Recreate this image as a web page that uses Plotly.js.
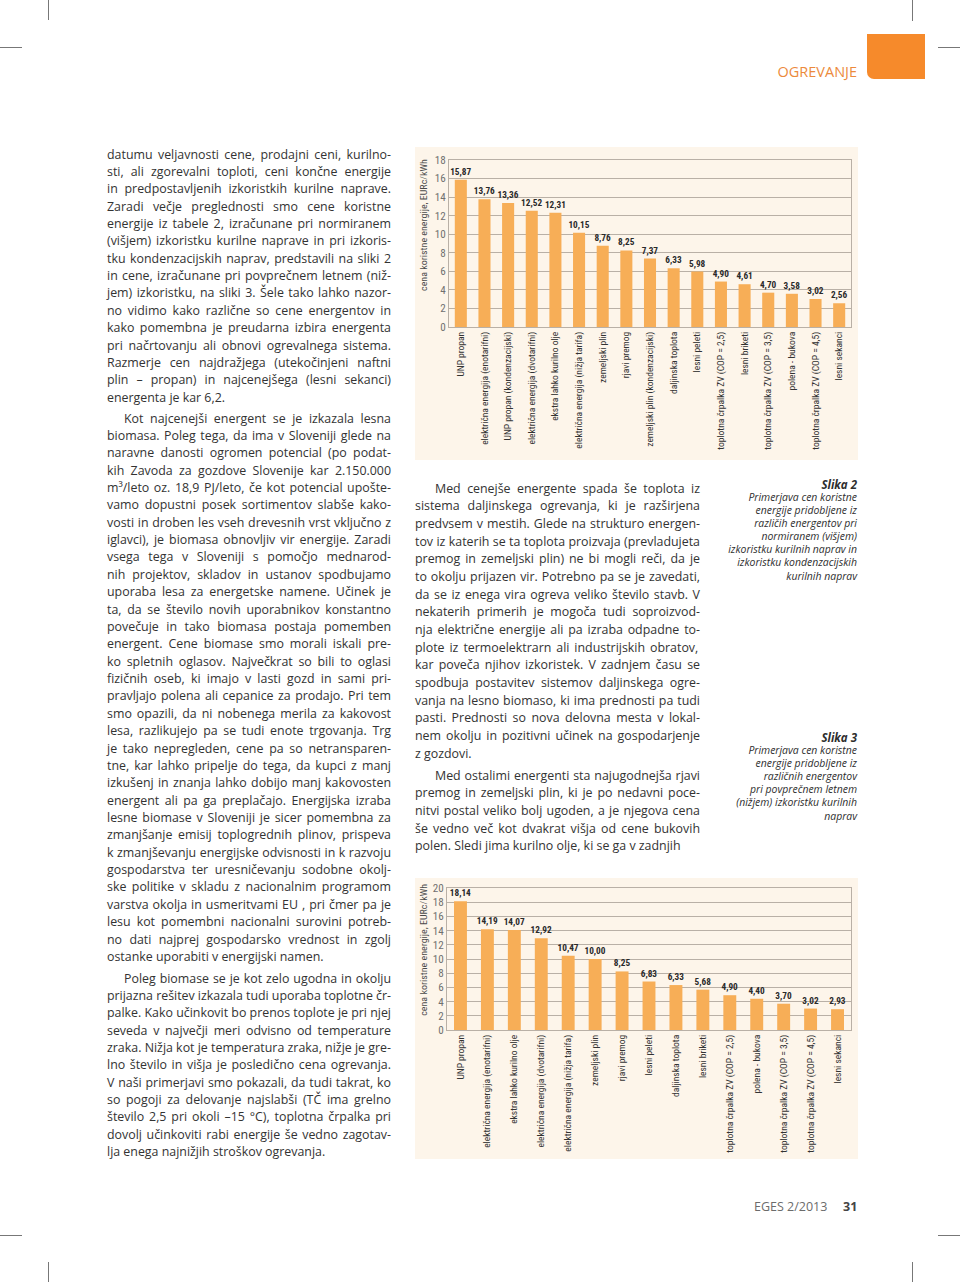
<!DOCTYPE html>
<html><head><meta charset="utf-8">
<script src="https://cdn.plot.ly/plotly-3.0.1.min.js"></script>
<style>
html,body{margin:0;padding:0;background:#fff;}
#page{position:relative;width:960px;height:1282px;overflow:hidden;background:#fff;font-family:'Open Sans',sans-serif;}
.ln{position:absolute;white-space:nowrap;font-size:12.4px;line-height:17px;color:#333;}
.cap{position:absolute;white-space:nowrap;font-style:italic;line-height:13px;color:#2e2e2e;text-align:right;right:103px;}
.mark{position:absolute;background:#777;}
.chart{position:absolute;}
</style></head>
<body><div id="page">
<div class="mark" style="left:48px;top:0;width:1px;height:20px"></div>
<div class="mark" style="left:0;top:47px;width:22px;height:1px"></div>
<div class="mark" style="left:912px;top:0;width:1px;height:21px"></div>
<div class="mark" style="left:938px;top:47px;width:22px;height:1px"></div>
<div class="mark" style="left:48px;top:1262px;width:1px;height:20px"></div>
<div class="mark" style="left:0;top:1235px;width:22px;height:1px"></div>
<div class="mark" style="left:912px;top:1262px;width:1px;height:20px"></div>
<div class="mark" style="left:938px;top:1235px;width:22px;height:1px"></div>
<div style="position:absolute;left:867px;top:34px;width:58px;height:45px;background:#f68a2b;border-bottom-left-radius:7px"></div>
<div id="ogr" style="position:absolute;right:103px;top:63px;font-size:14.5px;line-height:18px;color:#ec8a3c;white-space:nowrap">OGREVANJE</div>
<div style="position:absolute;left:754px;top:1198px;font-size:12.5px;line-height:17px;color:#6b6b6b;white-space:nowrap">EGES 2/2013</div>
<div style="position:absolute;left:843px;top:1198px;font-size:12.5px;line-height:17px;color:#444;font-weight:700;white-space:nowrap">31</div>
<div id="chartTop" class="chart" style="left:415px;top:147px;width:443px;height:313px"></div>
<div id="chartBottom" class="chart" style="left:415px;top:878px;width:443px;height:281px"></div>
</div>
<script>
// ---------------- DATA ----------------
const topCategories = ["UNP propan","električna energija (enotarifni)","UNP propan (kondenzacijski)","električna energija (dvotarifni)","ekstra lahko kurilno olje","električna energija (nižja tarifa)","zemeljski plin","rjavi premog","zemeljski plin (kondenzacijski)","daljinska toplota","lesni peleti","toplotna črpalka ZV (COP = 2,5)","lesni briketi","toplotna črpalka ZV (COP = 3,5)","polena - bukova","toplotna črpalka ZV (COP = 4,5)","lesni sekanci"];
const topValues = [15.87,13.76,13.36,12.52,12.31,10.15,8.76,8.25,7.37,6.33,5.98,4.90,4.61,3.70,3.58,3.02,2.56];
const topLabels = ["15,87","13,76","13,36","12,52","12,31","10,15","8,76","8,25","7,37","6,33","5,98","4,90","4,61","4,70","3,58","3,02","2,56"];

const bottomCategories = ["UNP propan","električna energija (enotarifni)","ekstra lahko kurilno olje","električna energija (dvotarifni)","električna energija (nižja tarifa)","zemeljski plin","rjavi premog","lesni peleti","daljinska toplota","lesni briketi","toplotna črpalka ZV (COP = 2,5)","polena - bukova","toplotna črpalka ZV (COP = 3,5)","toplotna črpalka ZV (COP = 4,5)","lesni sekanci"];
const bottomValues = [18.14,14.19,14.07,12.92,10.47,10.00,8.25,6.83,6.33,5.68,4.90,4.40,3.70,3.02,2.93];
const bottomLabels = ["18,14","14,19","14,07","12,92","10,47","10,00","8,25","6,83","6,33","5,68","4,90","4,40","3,70","3,02","2,93"];

const yTitle = "cena koristne energije, EURc/kWh";

const leftParas = [
["datumu veljavnosti cene, prodajni ceni, kurilno-",
"sti, ali zgorevalni toploti, ceni končne energije",
"in predpostavljenih izkoristkih kurilne naprave.",
"Zaradi večje preglednosti smo cene koristne",
"energije iz tabele 2, izračunane pri normiranem",
"(višjem) izkoristku kurilne naprave in pri izkoris-",
"tku kondenzacijskih naprav, predstavili na sliki 2",
"in cene, izračunane pri povprečnem letnem (niž-",
"jem) izkoristku, na sliki 3. Šele tako lahko nazor-",
"no vidimo kako različne so cene energentov in",
"kako pomembna je preudarna izbira energenta",
"pri načrtovanju ali obnovi ogrevalnega sistema.",
"Razmerje cen najdražjega (utekočinjeni naftni",
"plin – propan) in najcenejšega (lesni sekanci)",
"energenta je kar 6,2."],
["Kot najcenejši energent se je izkazala lesna",
"biomasa. Poleg tega, da ima v Sloveniji glede na",
"naravne danosti ogromen potencial (po podat-",
"kih Zavoda za gozdove Slovenije kar 2.150.000",
"m³/leto oz. 18,9 PJ/leto, če kot potencial upošte-",
"vamo dopustni posek sortimentov slabše kako-",
"vosti in droben les vseh drevesnih vrst vključno z",
"iglavci), je biomasa obnovljiv vir energije. Zaradi",
"vsega tega v Sloveniji s pomočjo mednarod-",
"nih projektov, skladov in ustanov spodbujamo",
"uporaba lesa za energetske namene. Učinek je",
"ta, da se število novih uporabnikov konstantno",
"povečuje in tako biomasa postaja pomemben",
"energent. Cene biomase smo morali iskali pre-",
"ko spletnih oglasov. Največkrat so bili to oglasi",
"fizičnih oseb, ki imajo v lasti gozd in sami pri-",
"pravljajo polena ali cepanice za prodajo. Pri tem",
"smo opazili, da ni nobenega merila za kakovost",
"lesa, razlikujejo pa se tudi enote trgovanja. Trg",
"je tako nepregleden, cene pa so netransparen-",
"tne, kar lahko pripelje do tega, da kupci z manj",
"izkušenj in znanja lahko dobijo manj kakovosten",
"energent ali pa ga preplačajo. Energijska izraba",
"lesne biomase v Sloveniji je sicer pomembna za",
"zmanjšanje emisij toplogrednih plinov, prispeva",
"k zmanjševanju energijske odvisnosti in k razvoju",
"gospodarstva ter uresničevanju sodobne okolj-",
"ske politike v skladu z nacionalnim programom",
"varstva okolja in usmeritvami EU , pri čmer pa je",
"lesu kot pomembni nacionalni surovini potreb-",
"no dati najprej gospodarsko vrednost in zgolj",
"ostanke uporabiti v energijski namen."],
["Poleg biomase se je kot zelo ugodna in okolju",
"prijazna rešitev izkazala tudi uporaba toplotne čr-",
"palke. Kako učinkovit bo prenos toplote je pri njej",
"seveda v največji meri odvisno od temperature",
"zraka. Nižja kot je temperatura zraka, nižje je gre-",
"lno število in višja je posledično cena ogrevanja.",
"V naši primerjavi smo pokazali, da tudi takrat, ko",
"so pogoji za delovanje najslabši (TČ ima grelno",
"število 2,5 pri okoli –15 °C), toplotna črpalka pri",
"dovolj učinkoviti rabi energije še vedno zagotav-",
"lja enega najnižjih stroškov ogrevanja."]
];

const midParas = [
["Med cenejše energente spada še toplota iz",
"sistema daljinskega ogrevanja, ki je razširjena",
"predvsem v mestih. Glede na strukturo energen-",
"tov iz katerih se ta toplota proizvaja (prevladujeta",
"premog in zemeljski plin) ne bi mogli reči, da je",
"to okolju prijazen vir. Potrebno pa se je zavedati,",
"da se iz enega vira ogreva veliko število stavb. V",
"nekaterih primerih je mogoča tudi soproizvod-",
"nja električne energije ali pa izraba odpadne to-",
"plote iz  termoelektrarn ali industrijskih obratov,",
"kar poveča njihov izkoristek. V zadnjem času se",
"spodbuja postavitev sistemov daljinskega ogre-",
"vanja na lesno biomaso, ki ima prednosti pa tudi",
"pasti. Prednosti so nova delovna mesta v lokal-",
"nem okolju in pozitivni učinek na gospodarjenje",
"z gozdovi."],
["Med ostalimi energenti sta najugodnejša rjavi",
"premog in zemeljski plin, ki je po nedavni poce-",
"nitvi postal veliko bolj ugoden, a je njegova cena",
"še vedno več kot dvakrat višja od cene bukovih",
"polen. Sledi jima kurilno olje, ki se ga v zadnjih"]
];

const caption2 = ["Slika 2","Primerjava cen koristne","energije pridobljene iz","različih energentov pri","normiranem (višjem)","izkoristku kurilnih naprav in","izkoristku kondenzacijskih","kurilnih naprav"];
const caption3 = ["Slika 3","Primerjava cen koristne","energije pridobljene iz","različnih energentov","pri povprečnem letnem","(nižjem) izkoristku kurilnih","naprav"];

// ---------------- HELPERS ----------------
const page = document.getElementById('page');
const cctx = document.createElement('canvas').getContext('2d');
function fontAvailable(name){
  const s='mmmmmmmmmmlliWWabc123,.()';
  for (const base of ['monospace','serif']) {
    cctx.font='32px '+base; const a=cctx.measureText(s).width;
    cctx.font='32px "'+name+'", '+base; const b=cctx.measureText(s).width;
    if (Math.abs(a-b)>0.01) return true;
  }
  return false;
}
function textW(str,size,family,weight,style){
  cctx.font=(style||'normal')+' '+(weight||400)+' '+size+'px "'+family+'", sans-serif';
  return cctx.measureText(str).width;
}

function placeLine(text, x, top, width, justify){
  const d=document.createElement('div');
  d.className='ln';
  d.style.left=x+'px'; d.style.top=top+'px';
  d.textContent=text;
  page.appendChild(d);
  const w=d.getBoundingClientRect().width;
  const nsp=(text.match(/ /g)||[]).length;
  if (w>width){
    d.style.letterSpacing=((width-w)/text.length)+'px';
  } else if (justify){
    if (nsp>0) d.style.wordSpacing=((width-w)/nsp)+'px';
    else d.style.letterSpacing=((width-w)/Math.max(1,text.length-1))+'px';
  }
}
function placeColumn(paras, col){
  paras.forEach((lines,pi)=>{
    lines.forEach((t,li)=>{
      const yc=col.starts[pi]+li*col.lh;
      const ind=(li===0)?col.indents[pi]:0;
      placeLine(t, col.x+ind, yc-9.5, col.w-ind, li<lines.length-1);
    });
  });
}
function placeCaption(lines, yc0, lh, size){
  lines.forEach((t,i)=>{
    const d=document.createElement('div');
    d.className='cap';
    d.style.top=(yc0+i*lh-7.5)+'px';
    d.style.fontSize=(i===0?size*1.1:size)+'px';
    if(i===0) d.style.fontWeight='700';
    d.textContent=t;
    page.appendChild(d);
  });
}

function build(){
  placeColumn(leftParas,{x:107,w:284,starts:[155,419,979],lh:17.37,indents:[0,17,17]});
  placeColumn(midParas,{x:415,w:285,starts:[489,776],lh:17.68,indents:[20,20]});
  const capSize=Math.min(11.5,10*129/textW("izkoristku kurilnih naprav in",10,'Open Sans',400,'italic'));
  placeCaption(caption2,485,13.15,capSize);
  placeCaption(caption3,738,13.17,capSize);

  // chart font
  let cond='Roboto';
  for (const f of ['Liberation Sans Narrow','Roboto Condensed','Open Sans Condensed']) {
    if (fontAvailable(f)) { cond=f; break; }
  }
  const allCats=topCategories.concat(bottomCategories);
  let maxW=0; allCats.forEach(c=>{maxW=Math.max(maxW,textW(c,10,cond));});
  const xSize=Math.min(11.5,10*118/maxW);
  const lblSize=Math.min(11.5,10*21/textW("15,87",10,cond,700));
  const ySize=Math.min(12.5,10*11/textW("18",10,cond));
  const titleSize=Math.min(12,10*132/textW(yTitle,10,cond));

  const grid='#b9b0a6', bg='#fdf5ea', barColor='#f7ae57';

  function makeChart(id, cats, vals, labels, w, h, margin, ymax, titleY, titleX, gap){
    const trace={type:'bar',x:cats,y:vals,text:labels,textposition:'outside',
      constraintext:'none',cliponaxis:false,textangle:0,
      textfont:{family:cond,size:lblSize,color:'#2a2a2a',weight:700},
      marker:{color:barColor,line:{width:0}},hoverinfo:'none'};
    const layout={width:w,height:h,margin:margin,paper_bgcolor:bg,plot_bgcolor:bg,
      bargap:gap,showlegend:false,font:{family:cond},
      xaxis:{type:'category',tickangle:-90,ticks:'',showgrid:false,showline:true,mirror:true,
        linecolor:grid,linewidth:1,tickfont:{family:cond,size:xSize,color:'#333'},fixedrange:true},
      yaxis:{range:[0,ymax],dtick:2,tick0:0,ticks:'',showgrid:true,gridcolor:grid,gridwidth:1,
        showline:true,mirror:true,linecolor:grid,linewidth:1,zeroline:false,
        tickfont:{family:cond,size:ySize,color:'#707070'},fixedrange:true},
      annotations:[{text:yTitle,textangle:-90,xref:'paper',yref:'y',x:titleX,y:titleY,
        xanchor:'center',yanchor:'middle',showarrow:false,font:{family:cond,size:titleSize,color:'#4a4a4a'}}]
    };
    return Plotly.newPlot(id,[trace],layout,{staticPlot:true,displayModeBar:false});
  }
  makeChart('chartTop',topCategories,topValues,topLabels,443,313,{l:34,r:7,t:13,b:133,pad:0},18,11.0,-25/402,0.49);
  makeChart('chartBottom',bottomCategories,bottomValues,bottomLabels,443,281,{l:32,r:7,t:10,b:129,pad:0},20,11.3,-23/404,0.52);
}
if (document.fonts && document.fonts.ready) document.fonts.ready.then(build); else build();
</script>
</body></html>
